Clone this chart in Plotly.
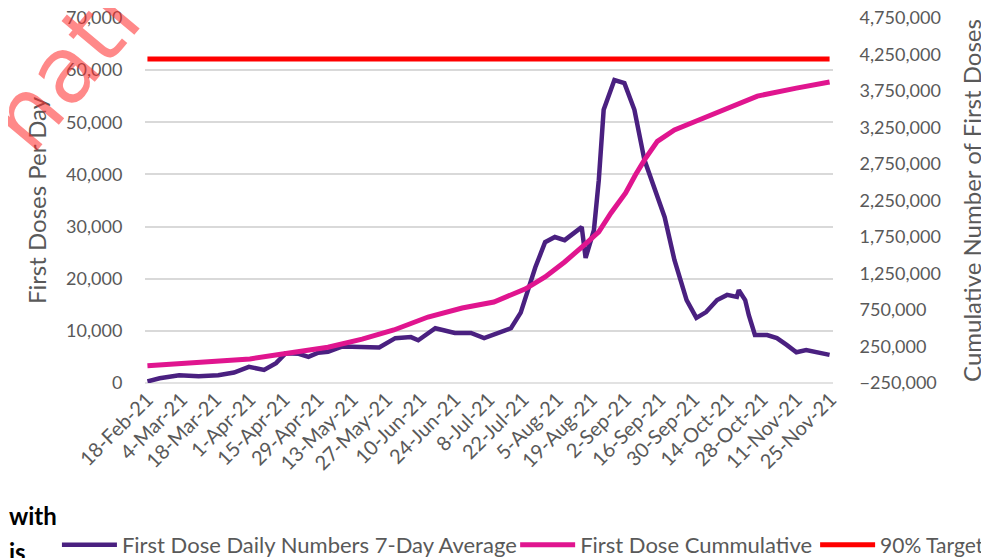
import pandas as pd
import plotly.graph_objects as go

# 7-day average of first doses, day offset from 18-Feb-21
daily_days = [0, 5, 13, 21, 29, 35.5, 41.6, 47.8, 52.7, 56.7, 62, 66, 70, 74, 80, 88, 95,
              101.6, 108, 111, 118, 126, 132.6, 138, 145, 149, 153, 156, 159, 163, 167, 171,
              176, 178, 179.6, 183, 185, 187, 191.4, 195.5, 199.6, 203.7, 212, 216, 221, 225,
              229, 233.5, 237.6, 241.6, 242.4, 245, 246.5, 249, 254, 258, 262, 266, 270, 274, 279.6]
daily_avg = [300, 900, 1500, 1300, 1500, 2000, 3100, 2500, 3800, 5700, 5600, 5000, 5800, 6000,
             7000, 6900, 6800, 8600, 8800, 8200, 10500, 9600, 9600, 8600, 9800, 10500, 13500,
             17800, 22200, 27000, 28000, 27400, 29300, 29900, 24000, 29300, 38900, 52400, 58100,
             57500, 52400, 42800, 31800, 23600, 15900, 12500, 13600, 15900, 16900, 16500, 17800,
             15900, 13000, 9200, 9200, 8600, 7300, 5900, 6300, 5900, 5400]

# cumulative first doses
cum_days = [0, 14, 28, 42, 56, 74, 88, 101, 115, 129, 142, 150, 155, 163, 171, 179, 185, 190,
            196, 200, 204, 209, 216, 226, 236, 250, 266, 279.6]
cum_total = [-15000, 15000, 45000, 80000, 150000, 240000, 350000, 476000, 654000, 777000,
             860000, 960000, 1040000, 1202000, 1408000, 1640000, 1819000, 2079000, 2353000,
             2600000, 2820000, 3060000, 3216000, 3353000, 3490000, 3680000, 3790000, 3874000]

target_value = 4190000

start = pd.Timestamp('2021-02-18')
daily_x = [start + pd.Timedelta(days=d) for d in daily_days]
cum_x = [start + pd.Timedelta(days=d) for d in cum_days]
target_x = [start, start + pd.Timedelta(days=279.6)]

grey = '#595959'
font = 'Lato, Open Sans, sans-serif'

fig = go.Figure()
fig.add_trace(go.Scatter(x=daily_x, y=daily_avg, mode='lines', legend='legend',
                         name='First Dose Daily Numbers 7-Day Average',
                         line=dict(color='#4a2080', width=4.5)))
fig.add_trace(go.Scatter(x=cum_x, y=cum_total, mode='lines', yaxis='y2', legend='legend2',
                         name='First Dose Cummulative',
                         line=dict(color='#e0158f', width=5)))
fig.add_trace(go.Scatter(x=target_x, y=[target_value, target_value], mode='lines', yaxis='y2',
                         legend='legend3', name='90% Target',
                         line=dict(color='#ff0000', width=5)))

leg = dict(orientation='h', xanchor='left', y=-0.444, yanchor='middle',
           font=dict(size=22, color=grey), itemwidth=55, bgcolor='rgba(0,0,0,0)')

# the page body adds an 8px offset, so the figure is 8px smaller than the window
fig.update_layout(
    width=981, height=550,
    margin=dict(l=137, r=156, t=10, b=175, autoexpand=False),
    paper_bgcolor='white', plot_bgcolor='white',
    font=dict(family=font, size=18, color=grey),
    showlegend=True,
    legend=dict(leg, x=-0.128),
    legend2=dict(leg, x=0.538),
    legend3=dict(leg, x=0.974, font=dict(size=21, color=grey)),
    xaxis=dict(type='date', range=['2021-02-17', '2021-11-26'], automargin=False,
               tick0='2021-02-18', dtick=14 * 86400000, tickformat='%-d-%b-%y',
               tickangle=-45, showgrid=False, showline=False, zeroline=False,
               ticks='', tickfont=dict(size=20, color=grey)),
    yaxis=dict(range=[0, 70000], dtick=10000, tickformat=',', showgrid=True, automargin=False,
               gridcolor='#d9d9d9', gridwidth=1.5, zeroline=False, showline=False,
               ticks='outside', ticklen=18, tickcolor='rgba(0,0,0,0)',
               ticklabeloverflow='allow', tickfont=dict(size=18, color=grey),
               title=dict(text='First Doses Per Day', font=dict(size=24, color=grey), standoff=12)),
    yaxis2=dict(range=[-250000, 4750000], tick0=-250000, dtick=500000, tickformat=',',
                overlaying='y', side='right', showgrid=False, zeroline=False, showline=False,
                automargin=False, ticks='outside', ticklen=22, tickcolor='rgba(0,0,0,0)',
                ticklabeloverflow='allow', tickfont=dict(size=18, color=grey),
                title=dict(text='Cumulative Number of First Doses',
                           font=dict(size=24, color=grey), standoff=24)),
)

# baseline of the chart
fig.add_shape(type='line', xref='paper', yref='paper', x0=0, x1=1, y0=0, y1=0,
              line=dict(color='#d9d9d9', width=1.5), layer='below')

# text bleeding in from the surrounding page
fig.add_annotation(text='nati', xref='paper', yref='paper', x=-0.118, y=0.86,
                   xanchor='center', yanchor='middle', showarrow=False, textangle=-50,
                   font=dict(family='DejaVu Sans', size=92, color='rgba(255,40,40,0.55)'))
fig.add_annotation(text='<b>with</b>', xref='paper', yref='paper', x=-0.2, y=-0.362,
                   xanchor='left', yanchor='middle', showarrow=False,
                   font=dict(family=font, size=24, color='black'))
fig.add_annotation(text='<b>is</b>', xref='paper', yref='paper', x=-0.2, y=-0.463,
                   xanchor='left', yanchor='middle', showarrow=False,
                   font=dict(family=font, size=24, color='black'))

fig.write_html('out.html')
